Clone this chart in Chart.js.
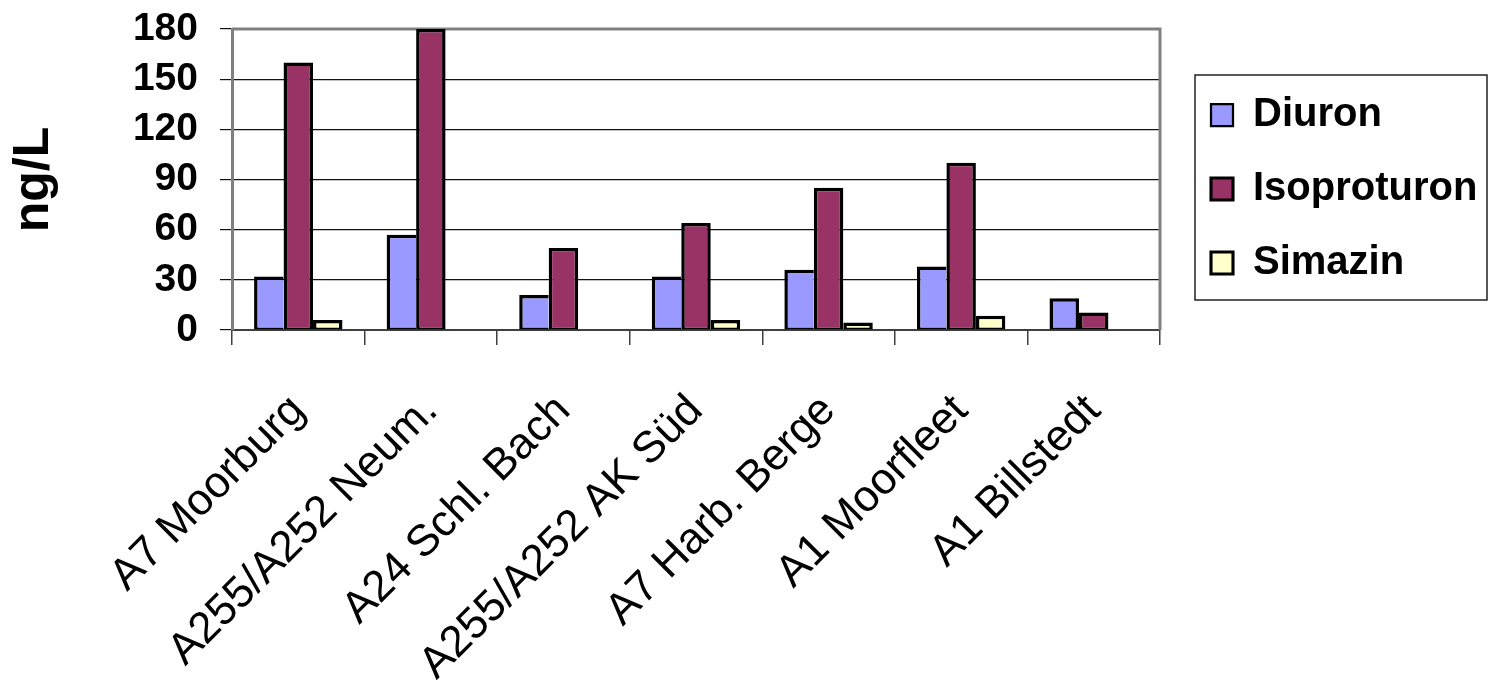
<!DOCTYPE html>
<html>
<head>
<meta charset="utf-8">
<script src="https://cdn.jsdelivr.net/npm/chart.js@4.4.1/dist/chart.umd.min.js"></script>
<style>
  body { margin: 0; background: #fff; }
  #wrap { width: 1490px; height: 690px; }
</style>
</head>
<body>
<div id="wrap"><canvas id="chart" width="1490" height="690"></canvas></div>
<script>
// chart data
const categories = ['A7 Moorburg', 'A255/A252 Neum.', 'A24 Schl. Bach', 'A255/A252 AK Süd', 'A7 Harb. Berge', 'A1 Moorfleet', 'A1 Billstedt'];
const diuron = [32, 57, 21, 32, 36, 38, 19];
const isoproturon = [160, 180, 49, 64, 85, 100, 10.5];
const simazin = [6, null, null, 6, 4.5, 8.5, null];
const seriesNames = ['Diuron', 'Isoproturon', 'Simazin'];
const yMax = 180;
const yStep = 30;

const fontFamily = "'Liberation Sans', Arial, sans-serif";
Chart.defaults.color = '#000';
Chart.defaults.font.family = fontFamily;

// one black line between neighbouring bars: skip the right edge
// when the next bar is at least as tall (its left edge covers it)
function barBorder(ctx) {
    if (ctx.type !== 'data') return 3;
    let own = ctx.dataset.data[ctx.dataIndex];
    let next = ctx.chart.data.datasets[ctx.datasetIndex + 1];
    let nextVal = next ? next.data[ctx.dataIndex] : null;
    let covered = nextVal != null && nextVal >= own;
    return { top: 3.5, left: 3.5, bottom: 2, right: covered ? 0 : 3.5 };
}

// grey frame round the plot area
const plotFrame = {
    id: 'plotFrame',
    beforeDatasetsDraw(chart) {
        let a = chart.chartArea;
        let c = chart.ctx;
        c.save();
        c.strokeStyle = '#808080';
        c.lineWidth = 3;
        c.beginPath();
        c.moveTo(a.left, a.top);
        c.lineTo(a.right, a.top);
        c.lineTo(a.right, a.bottom);
        c.stroke();
        c.restore();
    }
};

// move the legend to the right of the plot and put a box round it
const legendBox = {
    id: 'legendBox',
    afterLayout(chart) {
        let lg = chart.legend;
        let w = lg.width, h = lg.height;
        lg.left = 1177;
        lg.top = 61;
        lg.right = lg.left + w;
        lg.bottom = lg.top + h;
    },
    afterDraw(chart) {
        let hb = chart.legend.legendHitBoxes;
        if (!hb || !hb.length) return;
        let c = chart.ctx;
        let x = hb[0].left - 16;
        let y = hb[0].top - 20;
        let last = hb[hb.length - 1];
        let h = last.top + last.height + 17 - y;
        c.save();
        c.strokeStyle = '#222';
        c.lineWidth = 1.5;
        c.strokeRect(x, y, 292, h);
        c.restore();
    }
};

new Chart(document.getElementById('chart'), {
    type: 'bar',
    data: {
        labels: categories,
        datasets: [
            { label: seriesNames[0], data: diuron, backgroundColor: '#9999FF' },
            { label: seriesNames[1], data: isoproturon, backgroundColor: '#993366' },
            { label: seriesNames[2], data: simazin, backgroundColor: '#FFFFCC' }
        ].map(d => Object.assign(d, {
            borderColor: '#000',
            borderWidth: barBorder,
            borderSkipped: false,
            categoryPercentage: 0.667,
            barPercentage: 1.0
        }))
    },
    options: {
        responsive: false,
        animation: false,
        layout: {
            padding: { top: 29, right: 330, bottom: 0, left: 0 }
        },
        scales: {
            x: {
                offset: true,
                grid: {
                    offset: true,
                    drawOnChartArea: false,
                    tickLength: 15,
                    color: '#404040',
                    lineWidth: 1.5
                },
                border: { color: '#404040', width: 2 },
                ticks: {
                    autoSkip: false,
                    maxRotation: 45,
                    minRotation: 45,
                    padding: 40,
                    font: { size: 44, family: fontFamily }
                },
                afterFit(scale) {
                    scale.height = 360;
                }
            },
            y: {
                min: 0,
                max: yMax,
                ticks: {
                    stepSize: yStep,
                    autoSkip: false,
                    padding: 22,
                    font: { size: 39, weight: 'bold', family: fontFamily }
                },
                grid: {
                    color: '#111',
                    lineWidth: 1.2,
                    tickLength: 12
                },
                border: { color: '#808080', width: 3 },
                title: {
                    display: true,
                    text: 'ng/L',
                    padding: { top: 4, bottom: 0 },
                    font: { size: 50, weight: 'bold', family: fontFamily }
                },
                afterFit(scale) {
                    scale.width = 232;
                    scale.paddingTop = 0;
                    scale.paddingBottom = 0;
                }
            }
        },
        plugins: {
            legend: {
                position: 'chartArea',
                align: 'start',
                labels: {
                    boxWidth: 22,
                    boxHeight: 22,
                    padding: 34,
                    font: { size: 40, weight: 'bold', family: fontFamily }
                }
            },
            tooltip: { enabled: false }
        }
    },
    plugins: [plotFrame, legendBox]
});
</script>
</body>
</html>
